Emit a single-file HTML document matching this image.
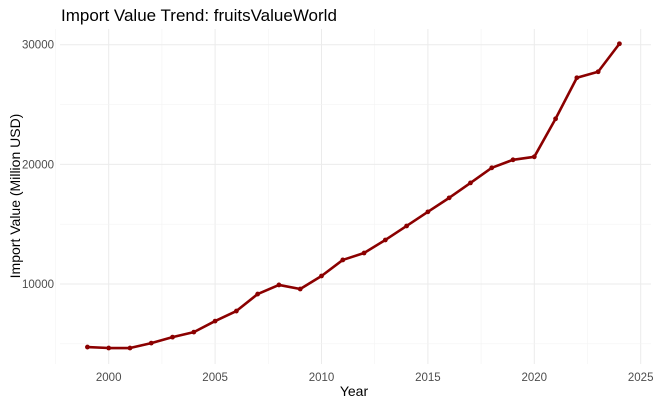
<!DOCTYPE html>
<html><head><meta charset="utf-8"><style>
body{margin:0;background:#fff;}
svg{display:block;font-family:"Liberation Sans",Arial,sans-serif;}
</style></head><body>
<svg id="chart" width="655" height="405">
<rect width="655" height="405" fill="#fff"/>
<g id="grid"></g><g id="axes"></g><g id="series"></g>
<text x="61" y="21" font-size="17" fill="#000">Import Value Trend: fruitsValueWorld</text>
<text x="354" y="396" font-size="14" text-anchor="middle" fill="#000">Year</text>
<text transform="translate(20,196) rotate(-90)" font-size="14" text-anchor="middle" fill="#000">Import Value (Million USD)</text>
</svg>
<script>
const years=[1999,2000,2001,2002,2003,2004,2005,2006,2007,2008,2009,2010,2011,2012,2013,2014,2015,2016,2017,2018,2019,2020,2021,2022,2023,2024];
const values=[4730,4650,4650,5060,5560,5980,6900,7740,9160,9920,9580,10670,12010,12590,13680,14850,16030,17200,18450,19710,20380,20630,23810,27240,27740,30080];
const xTicks=[2000,2005,2010,2015,2020,2025];
const yTicks=[10000,20000,30000];
const NS="http://www.w3.org/2000/svg";
const X0=60,X1=651,Y0=29,Y1=364;
function xs(v){return 108.7+(v-2000)*21.28;}
function ys(v){return 284-(v-10000)*0.011965;}
function mk(tag,attrs,parent){const e=document.createElementNS(NS,tag);for(const k in attrs)e.setAttribute(k,attrs[k]);parent.appendChild(e);return e;}
const grid=document.getElementById('grid'),axes=document.getElementById('axes'),series=document.getElementById('series');
for(let i=0;i<xTicks.length;i++){
  const t=xTicks[i];
  const l=mk('line',{x1:xs(t),x2:xs(t),y1:Y0,y2:Y1,stroke:'#ebebeb','stroke-width':1},grid);
  
  
  const m=mk('line',{x1:xs(t-2.5),x2:xs(t-2.5),y1:Y0,y2:Y1,stroke:'#f3f3f3','stroke-width':0.6},grid);
  
  
  const tx=mk('text',{x:xs(t),y:381,'font-size':11.5,'text-anchor':'middle',fill:'#4d4d4d'},axes);
  tx.textContent=t;
  
  
}
for(let i=0;i<yTicks.length;i++){
  const t=yTicks[i];
  const l=mk('line',{x1:X0,x2:X1,y1:ys(t),y2:ys(t),stroke:'#ebebeb','stroke-width':1},grid);
  
  
  const m=mk('line',{x1:X0,x2:X1,y1:ys(t-5000),y2:ys(t-5000),stroke:'#f3f3f3','stroke-width':0.6},grid);
  
  
  const tx=mk('text',{x:54,y:ys(t)+4,'font-size':11.5,'text-anchor':'end',fill:'#4d4d4d'},axes);
  tx.textContent=t;
  
  
}
const pts=years.map((y,i)=>xs(y)+','+ys(values[i])).join(' ');
const pl=mk('polyline',{points:pts,fill:'none',stroke:'#8b0000','stroke-width':2.6,'stroke-linejoin':'round'},series);


for(let i=0;i<years.length;i++){
  const c=mk('circle',{cx:xs(years[i]),cy:ys(values[i]),r:2.4,fill:'#8b0000'},series);
  
  
}
</script>
</body></html>
